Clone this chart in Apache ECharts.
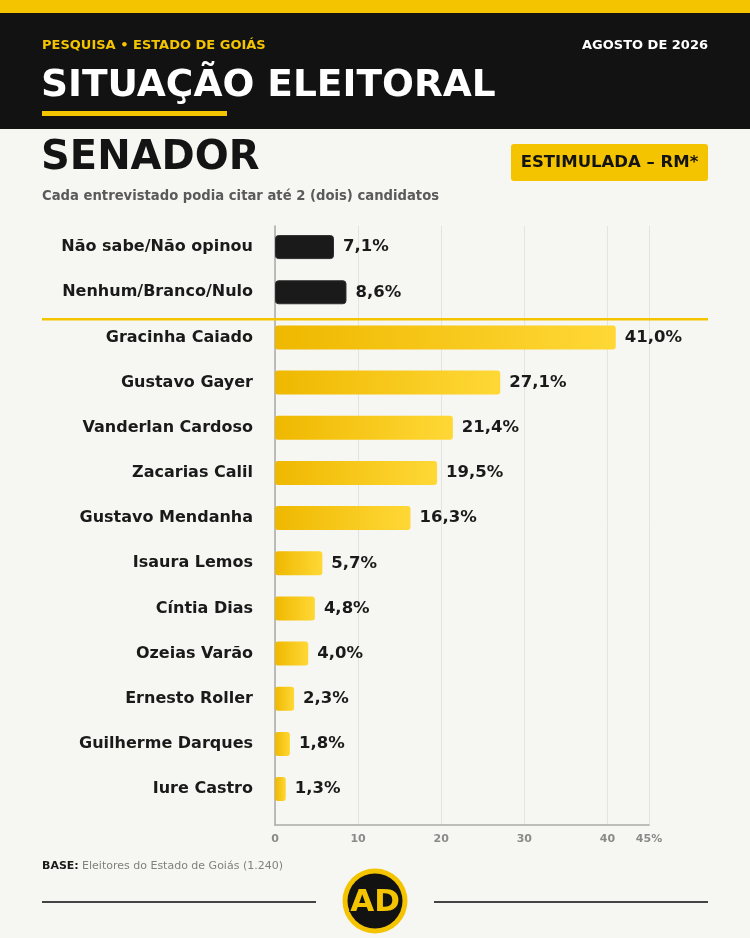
<!DOCTYPE html>
<html>
<head>
<meta charset="utf-8">
<script src="https://cdn.jsdelivr.net/npm/echarts@6/dist/echarts.min.js"></script>
<style>
html,body{margin:0;padding:0;background:#f6f6f2;}
#c{width:750px;height:938px;}
</style>
</head>
<body>
<div id="c"></div>
<script>
const categories = ['Não sabe/Não opinou','Nenhum/Branco/Nulo','Gracinha Caiado','Gustavo Gayer','Vanderlan Cardoso','Zacarias Calil','Gustavo Mendanha','Isaura Lemos','Cíntia Dias','Ozeias Varão','Ernesto Roller','Guilherme Darques','Iure Castro'];
const values = [7.1, 8.6, 41.0, 27.1, 21.4, 19.5, 16.3, 5.7, 4.8, 4.0, 2.3, 1.8, 1.3];
const isCandidate = [false, false, true, true, true, true, true, true, true, true, true, true, true];
const xTicks = [0, 10, 20, 30, 40, 45];

const FONT = 'DejaVu Sans';
const YELLOW = '#f5c400';
const DARK = '#121212';

const gold = new echarts.graphic.LinearGradient(0, 0, 1, 0, [
  {offset: 0, color: '#efb800'},
  {offset: 1, color: '#ffd836'}
]);

const barData = values.map((v, i) => ({
  value: v,
  itemStyle: isCandidate[i]
    ? {color: gold, borderRadius: 3}
    : {color: '#1a1a1a', borderColor: '#2e2e2e', borderWidth: 1, borderRadius: 3}
}));

const chart = echarts.init(document.getElementById('c'), null, {renderer: 'canvas'});
chart.setOption({
  backgroundColor: '#f6f6f2',
  animation: false,
  textStyle: {fontFamily: FONT},
  grid: [
    {left: 275, right: 101, top: 224.5, height: 587.2, containLabel: false},
    {left: 275, right: 101, top: 226, bottom: 113, containLabel: false}
  ],
  xAxis: [
    {gridIndex: 0, type: 'value', min: 0, max: 45, show: false},
    {gridIndex: 1, type: 'value', min: 0, max: 45, interval: 10,
      axisLine: {show: true, lineStyle: {color: '#aaaaaa', width: 1.5}},
      axisTick: {show: false},
      splitLine: {show: true, lineStyle: {color: '#e3e3e0', width: 1}},
      axisLabel: {
        color: '#8a8a8a', fontWeight: 'bold', fontSize: 11, fontFamily: FONT, margin: 9,
        showMaxLabel: true,
        customValues: xTicks,
        formatter: v => v === 45 ? '45%' : String(v)
      }
    }
  ],
  yAxis: [
    {gridIndex: 0, type: 'category', data: categories, inverse: true,
      axisLine: {show: false}, axisTick: {show: false}, splitLine: {show: false},
      axisLabel: {color: '#1a1a1a', fontWeight: 'bold', fontSize: 16, fontFamily: FONT, margin: 22}
    },
    {gridIndex: 1, type: 'value', min: 0, max: 1,
      axisLine: {show: true, lineStyle: {color: '#aaaaaa', width: 1.5}},
      axisTick: {show: false}, axisLabel: {show: false}, splitLine: {show: false}
    }
  ],
  series: [{
    type: 'bar',
    xAxisIndex: 0, yAxisIndex: 0,
    data: barData,
    barWidth: 24,
    z: 3,
    label: {
      show: true, position: 'right', distance: 9,
      color: '#1a1a1a', fontWeight: 'bold', fontSize: 16.5, fontFamily: FONT,
      formatter: p => p.value.toFixed(1).replace('.', ',') + '%'
    }
  }],
  graphic: [
    {type: 'rect', shape: {x: 0, y: 0, width: 750, height: 13}, style: {fill: YELLOW}, z: 10},
    {type: 'rect', shape: {x: 0, y: 13, width: 750, height: 116}, style: {fill: DARK}, z: 10},
    {type: 'text', x: 42, y: 46, style: {text: 'PESQUISA • ESTADO DE GOIÁS', fill: YELLOW, font: 'bold 13px "DejaVu Sans"', textVerticalAlign: 'middle'}, z: 11},
    {type: 'text', x: 708, y: 46, style: {text: 'AGOSTO DE 2026', fill: '#ffffff', font: 'bold 13px "DejaVu Sans"', textAlign: 'right', textVerticalAlign: 'middle'}, z: 11},
    {type: 'text', x: 41, y: 86, style: {text: 'SITUAÇÃO ELEITORAL', fill: '#ffffff', font: 'bold 37.5px "DejaVu Sans"', textVerticalAlign: 'middle'}, z: 11},
    {type: 'rect', shape: {x: 42, y: 111, width: 185, height: 5}, style: {fill: YELLOW}, z: 11},
    {type: 'text', x: 41, y: 159, style: {text: 'SENADOR', fill: '#141414', font: 'bold 40px "DejaVu Sans"', textVerticalAlign: 'middle'}, z: 11},
    {type: 'rect', shape: {x: 511, y: 144, width: 197, height: 37, r: 3}, style: {fill: YELLOW}, z: 11},
    {type: 'text', x: 609.5, y: 163, style: {text: 'ESTIMULADA – RM*', fill: '#141414', font: 'bold 16.5px "DejaVu Sans"', textAlign: 'center', textVerticalAlign: 'middle'}, z: 12},
    {type: 'text', x: 42, y: 197, style: {text: 'Cada entrevistado podia citar até 2 (dois) candidatos', fill: '#5a5a5a', font: 'bold 13.2px "DejaVu Sans"', textVerticalAlign: 'middle'}, z: 11},
    {type: 'rect', shape: {x: 42, y: 318, width: 666, height: 2.5}, style: {fill: YELLOW}, z: 11},
    {type: 'text', x: 42, y: 866, style: {
      text: '{b|BASE:} {n|Eleitores do Estado de Goiás (1.240)}',
      rich: {
        b: {font: 'bold 11px "DejaVu Sans"', fill: '#1a1a1a'},
        n: {font: '11px "DejaVu Sans"', fill: '#808080'}
      },
      textVerticalAlign: 'middle'}, z: 11},
    {type: 'rect', shape: {x: 42, y: 901, width: 274, height: 2}, style: {fill: '#444444'}, z: 11},
    {type: 'rect', shape: {x: 434, y: 901, width: 274, height: 2}, style: {fill: '#444444'}, z: 11},
    {type: 'circle', shape: {cx: 375, cy: 901, r: 32.5}, style: {fill: YELLOW}, z: 11},
    {type: 'circle', shape: {cx: 375, cy: 901, r: 27.5}, style: {fill: DARK}, z: 12},
    {type: 'text', x: 375, y: 903, style: {text: 'AD', fill: YELLOW, stroke: DARK, lineWidth: 2, font: 'bold 31px "DejaVu Sans"', textAlign: 'center', textVerticalAlign: 'middle'}, z: 13}
  ]
});
</script>
</body>
</html>
